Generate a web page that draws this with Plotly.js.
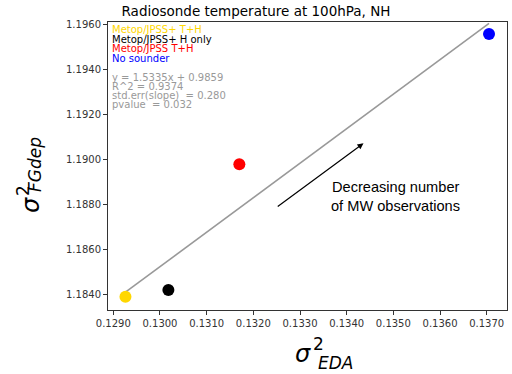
<!DOCTYPE html>
<html><head><meta charset="utf-8">
<script src="https://cdn.plot.ly/plotly-3.0.1.min.js"></script>
<style>html,body{margin:0;padding:0;background:#fff;}#c{width:512px;height:374px;}</style>
</head><body><div id="c"></div>
<script>
// Data
const labels = ["Metop/JPSS+ T+H", "Metop/JPSS+ H only", "Metop/JPSS T+H", "No sounder"];
const colors = ["#FFD700", "#000000", "#FF0000", "#0000FF"];
const sigmaEDA = [0.12926, 0.13018, 0.13170, 0.13705];
const sigmaFG = [1.18392, 1.18422, 1.18981, 1.19560];
const fitSlope = [1.5335];
const fitIntercept = [0.9859];
const statsText = ["y = 1.5335x + 0.9859", "R^2 = 0.9374", "std.err(slope)  = 0.280", "pvalue  = 0.032"];
const xTicks = [0.1290, 0.1300, 0.1310, 0.1320, 0.1330, 0.1340, 0.1350, 0.1360, 0.1370];
const yTicks = [1.1840, 1.1860, 1.1880, 1.1900, 1.1920, 1.1940, 1.1960];
const arrowFrom = [0.13249, 1.18788];
const arrowTo = [0.13436, 1.19074];
const noteLines = ["Decreasing number", "of MW observations"];
const noteAt = [0.13504, 1.18880];

const W = 512, H = 374, L = 108, R = 5, T = 22, B = 64;
const pw = W - L - R, ph = H - T - B;
const px = v => (v - L) / pw;
const py = v => (H - B - v) / ph;

const xmin = Math.min(...sigmaEDA), xmax = Math.max(...sigmaEDA);
const fitX = [xmin, xmax];
const fitY = fitX.map(x => fitSlope[0] * x + fitIntercept[0]);

const traces = [
  {x: fitX, y: fitY, mode: 'lines', line: {color: '#999999', width: 1.6}, hoverinfo: 'skip'},
  {x: sigmaEDA, y: sigmaFG, mode: 'markers', marker: {color: colors, size: 12}, hoverinfo: 'skip'}
];

const ann = [];
const legY = [29, 39, 48.5, 58];
labels.forEach((t, i) => ann.push({xref: 'paper', yref: 'paper', x: px(110), y: py(legY[i]),
  xanchor: 'left', yanchor: 'middle', text: t, showarrow: false,
  font: {family: 'DejaVu Sans', size: 10, color: colors[i]}}));
const stY = [77, 86, 95, 104];
statsText.forEach((t, i) => ann.push({xref: 'paper', yref: 'paper', x: px(110), y: py(stY[i]),
  xanchor: 'left', yanchor: 'middle', text: t, showarrow: false,
  font: {family: 'DejaVu Sans', size: 10, color: '#999999'}}));
// arrow
ann.push({x: arrowTo[0], y: arrowTo[1], ax: arrowFrom[0], ay: arrowFrom[1], axref: 'x', ayref: 'y',
  xref: 'x', yref: 'y', showarrow: true, arrowhead: 2, arrowsize: 1, arrowwidth: 1.2, arrowcolor: '#000', text: ''});
noteLines.forEach((t, i) => ann.push({x: noteAt[0], y: noteAt[1], xref: 'x', yref: 'y', yshift: -i * 19,
  text: t, showarrow: false, xanchor: 'center', yanchor: 'middle',
  font: {family: 'Liberation Sans', size: 14.6, color: '#000'}}));
// axis titles (stacked super/subscripts)
const tf = (s) => ({family: 'DejaVu Sans', size: s, color: '#000'});
ann.push({xref: 'paper', yref: 'paper', x: px(303), y: py(354), text: '<i>σ</i>', showarrow: false, font: tf(24), xanchor: 'center', yanchor: 'middle'});
ann.push({xref: 'paper', yref: 'paper', x: px(318), y: py(344), text: '2', showarrow: false, font: tf(17), xanchor: 'center', yanchor: 'middle'});
ann.push({xref: 'paper', yref: 'paper', x: px(335), y: py(363), text: '<i>EDA</i>', showarrow: false, font: tf(17), xanchor: 'center', yanchor: 'middle'});
ann.push({xref: 'paper', yref: 'paper', x: px(31), y: py(205), text: '<i>σ</i>', showarrow: false, font: tf(24), textangle: -90, xanchor: 'center', yanchor: 'middle'});
ann.push({xref: 'paper', yref: 'paper', x: px(23), y: py(191), text: '2', showarrow: false, font: tf(17), textangle: -90, xanchor: 'center', yanchor: 'middle'});
ann.push({xref: 'paper', yref: 'paper', x: px(35), y: py(165), text: '<i>FGdep</i>', showarrow: false, font: tf(17), textangle: -90, xanchor: 'center', yanchor: 'middle'});

const axCommon = {showgrid: false, zeroline: false, showline: true, mirror: true, linecolor: '#333', linewidth: 1,
  ticks: 'outside', ticklen: 4, tickcolor: '#333', tickfont: {family: 'DejaVu Sans', size: 10, color: '#333'}};

const layout = {
  width: W, height: H, margin: {l: L, r: R, t: T, b: B}, showlegend: false,
  paper_bgcolor: '#fff', plot_bgcolor: '#fff',
  title: {text: 'Radiosonde temperature at 100hPa, NH', x: px(307.5), xanchor: 'center', y: 1 - 11 / H, yanchor: 'middle',
    font: {family: 'DejaVu Sans', size: 13.5, color: '#000'}},
  xaxis: Object.assign({}, axCommon, {range: [0.128886, 0.137435], tickvals: xTicks, ticktext: xTicks.map(v => v.toFixed(4))}),
  yaxis: Object.assign({}, axCommon, {range: [1.18333, 1.19613], tickvals: yTicks, ticktext: yTicks.map(v => v.toFixed(4))}),
  annotations: ann
};
Plotly.newPlot('c', traces, layout, {staticPlot: true, displayModeBar: false});
</script></body></html>
